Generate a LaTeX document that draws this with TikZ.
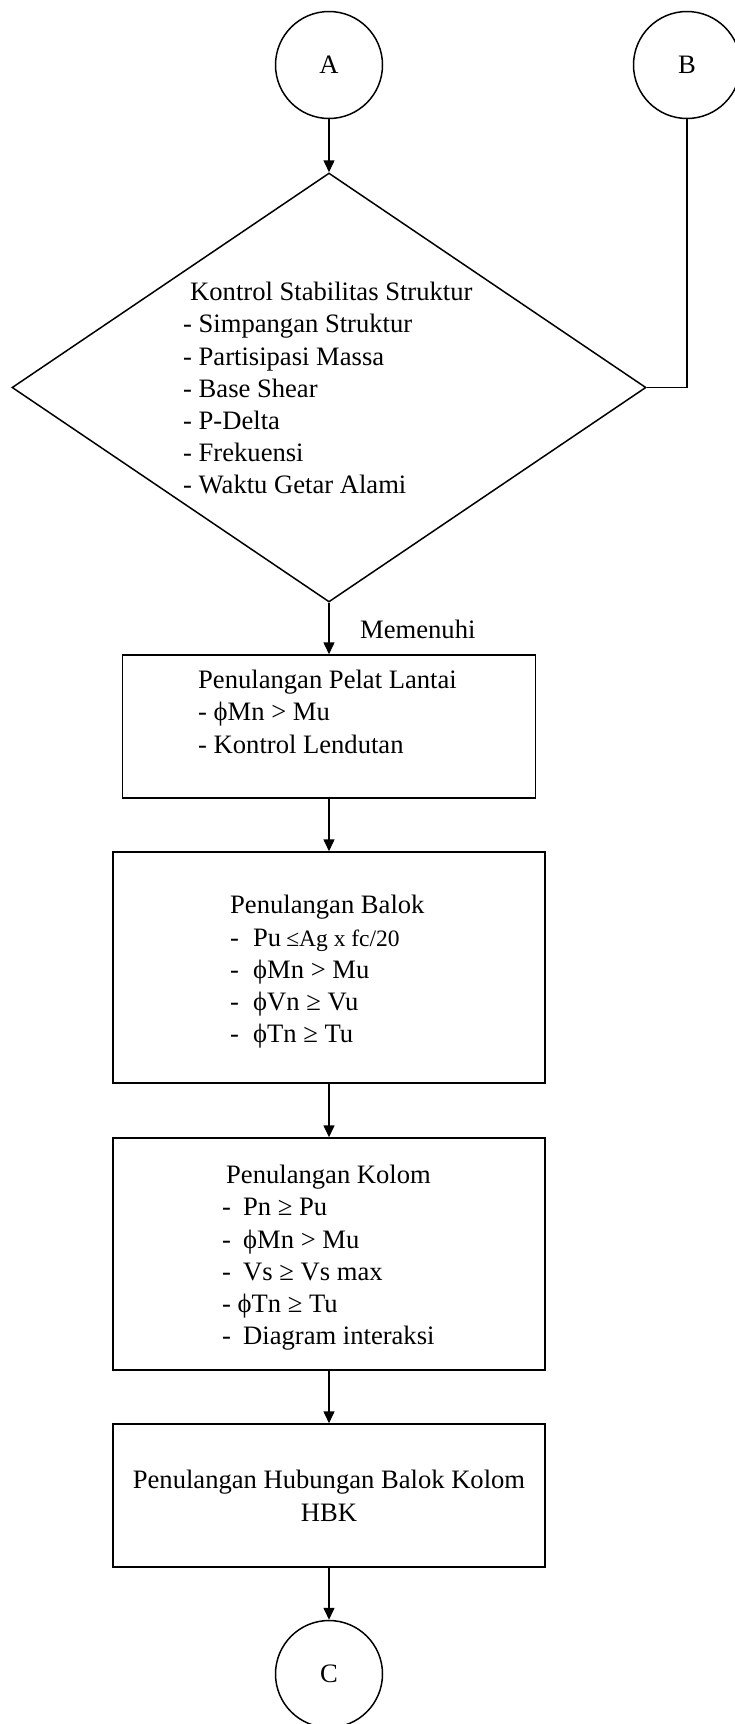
\documentclass[tikz,border=0pt]{standalone}
\usepackage{fontspec}
\setmainfont{Liberation Serif}
\usetikzlibrary{shapes.geometric,arrows.meta}
\begin{document}
\begin{tikzpicture}[x=1pt,y=-1pt,
  conn/.style={line width=1.5pt,-{Triangle[length=12pt,width=11pt]}},
  plainline/.style={line width=1.5pt},
  circ/.style={circle,draw,line width=1.5pt,minimum size=107pt,inner sep=0pt,font=\fontsize{26.6}{32}\selectfont},
  boxnode/.style={rectangle,draw,line width=1.5pt,inner sep=0pt},
  txt/.style={inner sep=0pt,anchor=base west,font=\fontsize{26.6}{32}\selectfont},
  ctxt/.style={inner sep=0pt,anchor=base,font=\fontsize{26.6}{32}\selectfont}
]
\path[use as bounding box] (0,0) rectangle (734,1724);

% terminals
\node[circ] (A) at (329,65) {A};
\node[circ] (B) at (687,65) {B};
\node[circ] (C) at (329,1674) {C};

% decision
\node[diamond,draw,line width=1.5pt,inner sep=0pt,minimum width=634pt,minimum height=429pt] (D) at (329,387.5) {};
\node[txt] (d0) at (190,300) {Kontrol Stabilitas Struktur};
\node[txt] (d1) at (183,332.5) {- Simpangan Struktur};
\node[txt] (d2) at (183,365) {- Partisipasi Massa};
\node[txt] (d3) at (183,397) {- Base Shear};
\node[txt] (d4) at (183,429) {- P-Delta};
\node[txt] (d5) at (183,461) {- Frekuensi};
\node[txt] (d6) at (183,493) {- Waktu Getar Alami};

\node[txt] (m) at (360,638) {Memenuhi};

% boxes
\node[boxnode,minimum width=413pt,minimum height=143pt] (b1) at (329,726.5) {};
\node[txt] (p0) at (198,688) {Penulangan Pelat Lantai};
\node[txt] (p1) at (198,720.5) {- ϕMn > Mu};
\node[txt] (p2) at (198,753) {- Kontrol Lendutan};

\node[boxnode,minimum width=432pt,minimum height=231pt] (b2) at (329,967.5) {};
\node[txt] (q0) at (230,913) {Penulangan Balok};
\node[txt] (q1) at (230,946) {\makebox[23pt][l]{-}Pu{\fontsize{23.5}{28}\selectfont\hspace{5pt}≤Ag x fc/20}};
\node[txt] (q2) at (230,978) {\makebox[23pt][l]{-}ϕMn > Mu};
\node[txt] (q3) at (230,1010) {\makebox[23pt][l]{-}ϕVn ≥ Vu};
\node[txt] (q4) at (230,1042) {\makebox[23pt][l]{-}ϕTn ≥ Tu};

\node[boxnode,minimum width=432pt,minimum height=232pt] (b3) at (329,1254) {};
\node[txt] (r0) at (226,1183) {Penulangan Kolom};
\node[txt] (r1) at (222,1215) {\makebox[21pt][l]{-}Pn ≥ Pu};
\node[txt] (r2) at (222,1248) {\makebox[21pt][l]{-}ϕMn > Mu};
\node[txt] (r3) at (222,1280) {\makebox[21pt][l]{-}Vs ≥ Vs max};
\node[txt] (r4) at (222,1312) {- ϕTn ≥ Tu};
\node[txt] (r5) at (222,1344) {\makebox[21pt][l]{-}Diagram interaksi};

\node[boxnode,minimum width=432pt,minimum height=143pt] (b4) at (329,1495.5) {};
\node[ctxt] (s0) at (329,1488) {Penulangan Hubungan Balok Kolom};
\node[ctxt] (s1) at (329,1521) {HBK};

% connectors
\draw[conn] (A) -- (D.north);
\draw[plainline] (B) |- (D.east);
\draw[conn] (D.south) -- (b1);
\draw[conn] (b1) -- (b2);
\draw[conn] (b2) -- (b3);
\draw[conn] (b3) -- (b4);
\draw[conn] (b4) -- (C);
\end{tikzpicture}
\end{document}
